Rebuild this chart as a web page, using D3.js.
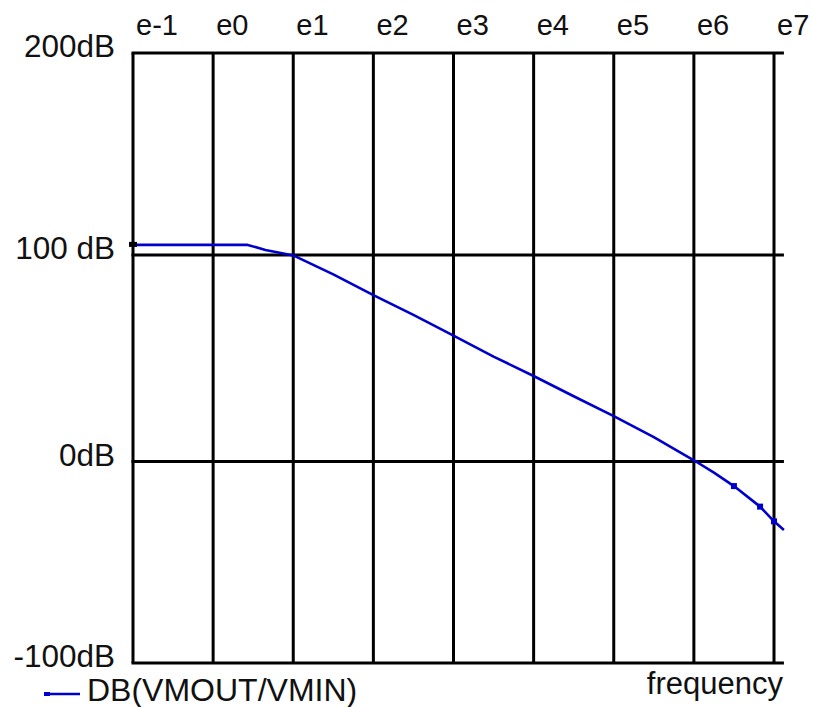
<!DOCTYPE html>
<html><head><meta charset="utf-8">
<script src="https://cdn.jsdelivr.net/npm/d3@7"></script>
<style>
html,body{margin:0;padding:0;background:#fff;}
svg text{font-family:"Liberation Sans",Arial,sans-serif;fill:#111;}
</style></head>
<body>
<svg id="chart" width="813" height="707"></svg>
<script>
// ---- data ----
const frequency = [0.1, 1, 2.7, 4.5, 7, 10, 31.6, 100, 316, 1000, 3162, 10000, 31623, 100000, 316228, 1000000, 1780000, 3162000, 6700000, 10000000, 13300000];
const dbValues  = [105, 105, 105, 102.5, 101, 99.8, 90.6, 80.6, 71, 61, 50.8, 41.4, 31.6, 22, 11.8, 0.6, -5.5, -12.2, -22.4, -29.7, -34];
const markerFreqs = [3162000, 6700000, 10000000];
const markerDb    = [-12.2, -22.4, -29.7];
const decadeTicks = [0.1, 1, 10, 100, 1e3, 1e4, 1e5, 1e6, 1e7];
const decadeLabels = ["e-1", "e0", "e1", "e2", "e3", "e4", "e5", "e6", "e7"];
const dbTicks = [200, 100, 0, -100];
const dbLabels = ["200dB", "100 dB", "0dB", "-100dB"];
const seriesName = "DB(VMOUT/VMIN)";
const xTitle = "frequency";

// ---- scales ----
const x = d3.scaleLog().domain([0.1, 1e7]).range([133, 774]);
const xEnd = 13300000;
const y = d3.scaleLinear().domain([-100, 0, 100, 200]).range([663, 461.5, 255, 53]);

const svg = d3.select("#chart");
const lineColor = "#0000cc";

// grid: vertical decade lines
svg.append("g").selectAll("line").data(decadeTicks).join("line")
  .attr("x1", d => x(d)).attr("x2", d => x(d))
  .attr("y1", y(200)).attr("y2", y(-100))
  .attr("stroke", "#000").attr("stroke-width", 3);

// grid: horizontal lines
svg.append("g").selectAll("line").data(dbTicks).join("line")
  .attr("x1", x(0.1) - 1.5).attr("x2", x(xEnd))
  .attr("y1", d => y(d)).attr("y2", d => y(d))
  .attr("stroke", "#000").attr("stroke-width", 3);

// top labels
svg.append("g").selectAll("text").data(decadeTicks).join("text")
  .attr("x", d => x(d) + 3).attr("y", 35)
  .attr("font-size", 29)
  .text((d, i) => decadeLabels[i]);

// y labels
svg.append("g").selectAll("text").data(dbTicks).join("text")
  .attr("x", 115).attr("y", d => y(d) + 4)
  .attr("text-anchor", "end")
  .attr("font-size", 31.5)
  .text((d, i) => dbLabels[i]);

// curve
const pts = frequency.map((f, i) => [f, dbValues[i]]);
const line = d3.line().x(d => x(d[0])).y(d => y(d[1]));
svg.append("path").datum(pts)
  .attr("d", line)
  .attr("fill", "none").attr("stroke", lineColor)
  .attr("stroke-width", 2.6).attr("stroke-linejoin", "round");

// start marker (black)
svg.append("rect")
  .attr("x", x(frequency[0]) - 4).attr("y", y(dbValues[0]) - 3)
  .attr("width", 8).attr("height", 5).attr("fill", "#000");

// blue markers
svg.append("g").selectAll("rect").data(markerFreqs).join("rect")
  .attr("x", d => x(d) - 3).attr("y", (d, i) => y(markerDb[i]) - 3)
  .attr("width", 6).attr("height", 6).attr("fill", lineColor);

// legend
svg.append("line").attr("x1", 44).attr("x2", 80).attr("y1", 694).attr("y2", 694)
  .attr("stroke", lineColor).attr("stroke-width", 2.6);
svg.append("rect").attr("x", 44).attr("y", 692).attr("width", 6).attr("height", 4).attr("fill", lineColor);
svg.append("text").attr("x", 87).attr("y", 701).attr("font-size", 32).text(seriesName);

// x title
svg.append("text").attr("x", 783).attr("y", 694).attr("text-anchor", "end")
  .attr("font-size", 31).text(xTitle);
</script>
</body></html>
